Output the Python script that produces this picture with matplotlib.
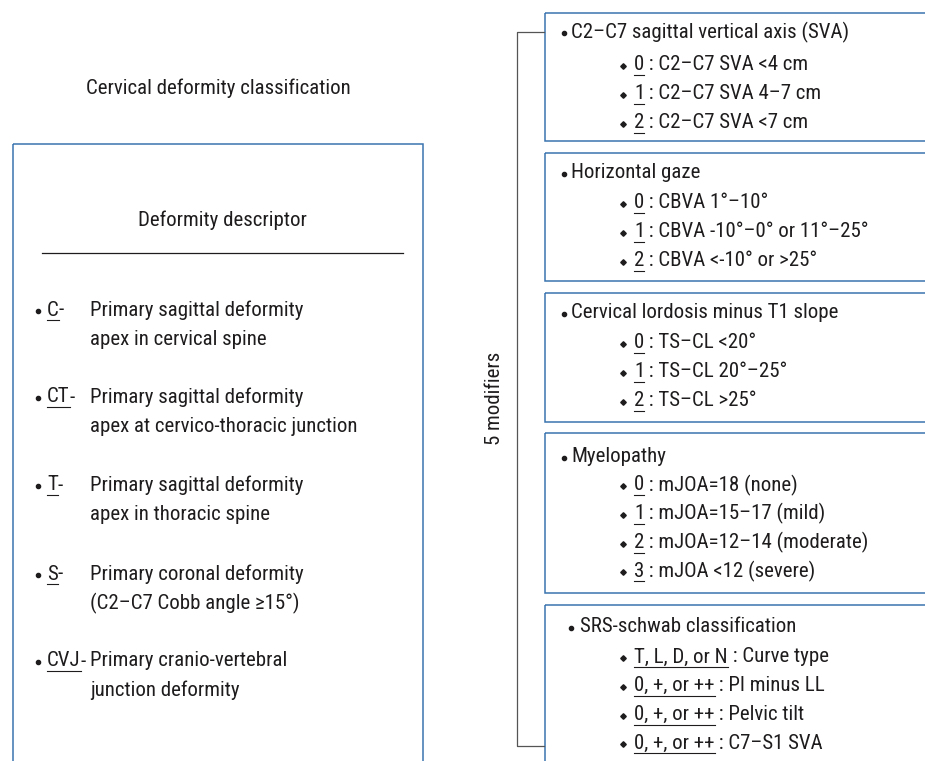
import matplotlib
matplotlib.use("Agg")
import matplotlib.pyplot as plt
from matplotlib import font_manager
from matplotlib.patches import Rectangle

# look for a condensed sans face, the reference uses one
cands = []
for f in font_manager.fontManager.ttflist:
    fn = f.fname.lower()
    if ("condensed" in fn or "narrow" in fn) and f.style == "normal" \
            and f.weight in (400, "normal", "regular") and "semi" not in fn \
            and "extra" not in fn and "light" not in fn:
        cands.append(f)
order = ["roboto", "liberation", "dejavu", "noto", "open"]
cands.sort(key=lambda f: next((i for i, k in enumerate(order) if k in f.fname.lower()), 99))
if cands:
    FAMILY = cands[0].name
    plt.rcParams['font.family'] = [FAMILY, 'DejaVu Sans']
    plt.rcParams['font.stretch'] = cands[0].stretch
    fs = 15
else:
    plt.rcParams['font.family'] = ['Liberation Sans', 'DejaVu Sans']
    fs = 13

# text content
title = "Cervical deformity classification"
descriptor_title = "Deformity descriptor"
descriptor_codes = ["C", "CT", "T", "S", "CVJ"]
descriptor_text = [
    ("Primary sagittal deformity", "apex in cervical spine"),
    ("Primary sagittal deformity", "apex at cervico-thoracic junction"),
    ("Primary sagittal deformity", "apex in thoracic spine"),
    ("Primary coronal deformity", "(C2\u2013C7 Cobb angle \u226515\u00b0)"),
    ("Primary cranio-vertebral", "junction deformity"),
]
modifiers_label = "5 modifiers"
modifier_names = [
    "C2\u2013C7 sagittal vertical axis (SVA)",
    "Horizontal gaze",
    "Cervical lordosis minus T1 slope",
    "Myelopathy",
    "SRS-schwab classification",
]
modifier_codes = [
    ["0", "1", "2"],
    ["0", "1", "2"],
    ["0", "1", "2"],
    ["0", "1", "2", "3"],
    ["T, L, D, or N", "0, +, or ++", "0, +, or ++", "0, +, or ++"],
]
modifier_text = [
    ["C2\u2013C7 SVA <4 cm", "C2\u2013C7 SVA 4\u20137 cm", "C2\u2013C7 SVA <7 cm"],
    ["CBVA 1\u00b0\u201310\u00b0", "CBVA -10\u00b0\u20130\u00b0 or 11\u00b0\u201325\u00b0", "CBVA <-10\u00b0 or >25\u00b0"],
    ["TS\u2013CL <20\u00b0", "TS\u2013CL 20\u00b0\u201325\u00b0", "TS\u2013CL >25\u00b0"],
    ["mJOA=18 (none)", "mJOA=15\u201317 (mild)", "mJOA=12\u201314 (moderate)", "mJOA <12 (severe)"],
    ["Curve type", "PI minus LL", "Pelvic tilt", "C7\u2013S1 SVA"],
]

# layout (pixel coords, y down)
W, H = 925, 761
blue = "#3b74b0"
ink = "#1e1c1d"

desc_y = [310, 397, 485, 574, 661]
box_tops = [13, 153, 293, 433, 605]
box_bots = [141, 281, 422, 593, 800]
header_y = [32, 173, 313, 457, 627]
row0_y = [65, 203, 343, 485, 657]
row_gap = 28.8

fig = plt.figure(figsize=(W / 100, H / 100), dpi=100)
ax = fig.add_axes([0, 0, 1, 1])
ax.set_xlim(0, W)
ax.set_ylim(H, 0)
ax.axis("off")
renderer = fig.canvas.get_renderer()


def width_of(t):
    return t.get_window_extent(renderer=renderer).width


def underlined(x, y, code, rest, under_gap=10):
    t = ax.text(x, y, code, fontsize=fs, color=ink, va="center", ha="left")
    w = width_of(t)
    ax.plot([x, x + w], [y + under_gap, y + under_gap], color=ink, lw=0.8)
    if rest:
        ax.text(x + w, y, rest, fontsize=fs, color=ink, va="center", ha="left")
    return w


# left side
ax.text(218, 88, title, fontsize=fs, color=ink, ha="center", va="center")
ax.add_patch(Rectangle((12.5, 144), 410, 700, fill=False, ec=blue, lw=1.1))
ax.text(222, 220, descriptor_title, fontsize=fs, color=ink, ha="center", va="center")
ax.plot([42, 403], [253, 253], color=ink, lw=0.9)

for code, (l1, l2), y in zip(descriptor_codes, descriptor_text, desc_y):
    ax.plot(38, y + 1, "o", ms=3, color=ink)
    underlined(47, y, code, "-")
    ax.text(90, y, l1, fontsize=fs, color=ink, va="center")
    ax.text(90, y + 29.5, l2, fontsize=fs, color=ink, va="center")

# bracket and label
gray = "#555555"
ax.plot([544, 516.5, 516.5, 544], [32, 32, 746, 746], color=gray, lw=0.9)
ax.text(494, 398, modifiers_label, fontsize=fs, color=ink, rotation=90,
        ha="center", va="center")

# right boxes
for i, name in enumerate(modifier_names):
    top, bot = box_tops[i], box_bots[i]
    ax.add_patch(Rectangle((544.5, top), 500, bot - top, fill=False, ec=blue, lw=1.1))
    hy = header_y[i]
    hx = 571 if i < 4 else 580
    ax.plot(hx - (7 if i < 4 else 9), hy + 1, "o", ms=3, color=ink)
    ax.text(hx, hy, name, fontsize=fs, color=ink, va="center")
    for j, (c, txt) in enumerate(zip(modifier_codes[i], modifier_text[i])):
        y = row0_y[i] + row_gap * j
        ax.plot(623, y + 1, "D", ms=2.8, color=ink)
        underlined(634, y, c, " : " + txt)

fig.savefig("out.png", dpi=100)
